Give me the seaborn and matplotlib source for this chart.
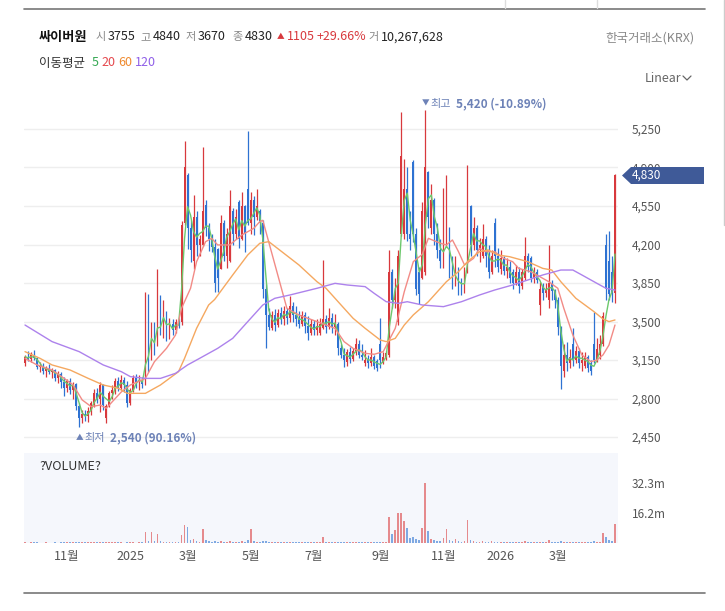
import numpy as np
import pandas as pd
import matplotlib.pyplot as plt
import seaborn as sns
from matplotlib.patches import Polygon
from matplotlib.lines import Line2D

# ─── SETTINGS ───────────────────────────────────────────
sns.set_theme(style="white")
plt.rcParams['font.family'] = ['Noto Sans CJK KR', 'DejaVu Sans']

W, H = 725, 611
UP, DOWN = '#d8393d', '#2e72d2'

# ─── DATA (2 trading days per candle) ───────────────────
opens = [
    3120, 3180, 3160, 3200, 3170, 3090, 3100, 3050, 3070, 3040,
    3060, 2990, 3020, 2950, 2900, 2960, 2880, 2930, 2730, 2620,
    2660, 2640, 2690, 2760, 2850, 2800, 2920, 2620, 2730, 2850,
    2880, 2960, 2900, 2970, 2920, 2760, 2880, 2990, 2950, 2970,
    2930, 3420, 3200, 3420, 3300, 3600, 3450, 3560, 3400, 3480,
    3420, 3500, 3500, 4400, 4830, 4350, 4050, 4450, 4200, 4200,
    4560, 4350, 4250, 4180, 4160, 3980, 4400, 4100, 4050, 4500,
    4300, 4590, 4250, 4550, 4700, 4400, 4600, 4450, 4500, 4400,
    3800, 3560, 3440, 3560, 3470, 3580, 3520, 3600, 3530, 3640,
    3560, 3520, 3480, 3560, 3460, 3400, 3480, 3420, 3400, 3440,
    3520, 3450, 3530, 3450, 3480, 3260, 3200, 3130, 3220, 3160,
    3230, 3300, 3200, 3120, 3150, 3120, 3180, 3140, 3300, 3120,
    3180, 3200, 3950, 3700, 3500, 4300, 4300, 4700, 4300, 4950,
    4300, 3950, 3900, 3950, 4860, 4350, 4600, 4300, 4150, 4000,
    4200, 4350, 4000, 3850, 3950, 3850, 3780, 3950, 4550, 4200,
    4350, 4150, 4100, 4250, 4100, 3950, 4400, 4100, 3980, 4080,
    3960, 4000, 3950, 3850, 3950, 3820, 3900, 4100, 4080, 3900,
    3950, 3650, 3820, 3760, 3700, 3850, 3780, 3700, 3450, 3050,
    3200, 3120, 3300, 3150, 3230, 3120, 3100, 3180, 3120, 3300,
    3150, 3200, 3300, 4200, 4050, 3950, 3755,
]
highs = [
    3200, 3230, 3220, 3240, 3180, 3130, 3120, 3100, 3110, 3080,
    3070, 3050, 3040, 3000, 2980, 2990, 2950, 2940, 2760, 2700,
    2700, 2720, 2780, 2890, 2900, 2950, 2930, 2750, 2870, 2920,
    2990, 3000, 3010, 3000, 2960, 2900, 3010, 3020, 3010, 3000,
    3770, 3750, 3500, 3500, 3980, 3740, 3700, 3600, 3530, 3520,
    3520, 3530, 4410, 5140, 4850, 4420, 4650, 4500, 4290, 5090,
    4600, 4400, 4300, 4250, 4170, 4470, 4420, 4350, 4695, 4530,
    4520, 4600, 4680, 4560, 5230, 4680, 4640, 4700, 4520, 4420,
    3840, 3620, 3600, 3610, 3610, 3630, 3640, 3620, 3730, 3680,
    3640, 3600, 3600, 3590, 3550, 3520, 3510, 3520, 3530, 4060,
    3560, 3620, 3580, 3570, 3500, 3300, 3260, 3250, 3270, 3260,
    3350, 3330, 3300, 3240, 3200, 3260, 3200, 3160, 3530, 3220,
    3230, 4150, 3980, 3900, 4150, 5400, 4980, 4900, 4500, 4970,
    4350, 4000, 4590, 5420, 4870, 4750, 4620, 4400, 4250, 4710,
    4830, 4360, 4100, 4100, 4000, 3900, 4000, 4920, 4560, 4450,
    4380, 4260, 4390, 4280, 4200, 4150, 4440, 4170, 4150, 4100,
    4080, 4050, 3980, 4010, 4000, 3980, 4270, 4120, 4100, 4000,
    3980, 3860, 3850, 3850, 4200, 3880, 3800, 3720, 3460, 3300,
    3310, 3250, 3440, 3280, 3260, 3220, 3220, 3200, 3150, 3590,
    3350, 3380, 3590, 4300, 4320, 4100, 4840,
]
lows = [
    3100, 3140, 3130, 3150, 3070, 3040, 3020, 3000, 3020, 2990,
    2960, 2940, 2900, 2820, 2860, 2840, 2800, 2700, 2540, 2580,
    2600, 2590, 2650, 2720, 2760, 2680, 2700, 2575, 2720, 2800,
    2840, 2870, 2880, 2860, 2726, 2740, 2860, 2900, 2880, 2900,
    2920, 3040, 3150, 3200, 3280, 3380, 3350, 3320, 3340, 3380,
    3400, 3440, 3470, 4380, 4160, 4040, 3980, 4100, 4100, 4190,
    4280, 4140, 4130, 3770, 3770, 3980, 4050, 3990, 4040, 4200,
    4250, 4170, 4240, 4135, 4380, 4300, 4290, 4420, 4300, 3710,
    3260, 3420, 3420, 3410, 3450, 3480, 3470, 3480, 3500, 3500,
    3460, 3440, 3460, 3400, 3330, 3380, 3380, 3380, 3380, 3430,
    3400, 3430, 3400, 3380, 3200, 3170, 3090, 3100, 3120, 3140,
    3200, 3170, 3150, 3100, 3080, 3100, 3070, 3050, 3080, 3110,
    3150, 3180, 3620, 3620, 3470, 4280, 4250, 4230, 4150, 4220,
    3740, 3660, 3890, 3920, 4350, 4300, 4200, 4080, 3990, 3990,
    4180, 3900, 3800, 3820, 3740, 3740, 3760, 3940, 4100, 4150,
    4100, 4040, 4080, 4000, 3900, 3930, 4000, 3950, 3930, 3920,
    3900, 3850, 3800, 3830, 3760, 3800, 3880, 3950, 3860, 3850,
    3850, 3560, 3700, 3720, 3620, 3700, 3620, 3380, 2890, 3000,
    3050, 3080, 3100, 3120, 3080, 3050, 3080, 3040, 3010, 3120,
    3130, 3160, 3280, 3700, 3700, 3680, 3670,
]
closes = [
    3180, 3160, 3200, 3170, 3090, 3100, 3050, 3070, 3040, 3060,
    2990, 3020, 2950, 2900, 2960, 2880, 2930, 2730, 2620, 2660,
    2640, 2690, 2760, 2850, 2800, 2920, 2740, 2730, 2850, 2880,
    2960, 2900, 2970, 2920, 2760, 2880, 2990, 2950, 2970, 2930,
    3420, 3200, 3420, 3300, 3600, 3450, 3560, 3400, 3480, 3420,
    3500, 3480, 4380, 4900, 4350, 4150, 4450, 4200, 4250, 4500,
    4350, 4250, 4180, 3850, 3900, 4400, 4100, 4300, 4550, 4300,
    4450, 4250, 4550, 4300, 4400, 4600, 4450, 4550, 4400, 3800,
    3560, 3450, 3560, 3470, 3580, 3520, 3600, 3530, 3640, 3560,
    3520, 3480, 3560, 3460, 3400, 3480, 3420, 3460, 3480, 3520,
    3450, 3530, 3450, 3480, 3260, 3200, 3150, 3220, 3160, 3230,
    3300, 3200, 3180, 3150, 3120, 3180, 3100, 3080, 3150, 3180,
    3210, 3950, 3700, 3750, 4100, 5000, 4700, 4300, 4250, 4300,
    3800, 3750, 4500, 4900, 4450, 4600, 4300, 4150, 4050, 4200,
    4300, 3950, 3850, 3950, 3800, 3780, 3950, 4350, 4200, 4350,
    4150, 4200, 4250, 4100, 3950, 4100, 4100, 4000, 4080, 3960,
    4000, 3900, 3850, 3950, 3820, 3950, 4100, 4000, 3900, 3950,
    3880, 3800, 3760, 3800, 3850, 3780, 3700, 3450, 3100, 3200,
    3120, 3180, 3150, 3230, 3120, 3150, 3180, 3080, 3050, 3150,
    3250, 3300, 3550, 3800, 3750, 3760, 4830,
]
volumes_m = [
    0.3, 0.2, 0.3, 0.4, 0.3, 0.2, 0.2, 0.3, 0.2, 0.2,
    0.3, 0.2, 0.3, 0.4, 0.3, 0.3, 0.3, 0.5, 0.6, 0.4,
    0.3, 0.3, 0.3, 0.4, 0.3, 0.5, 0.4, 0.5, 0.4, 0.3,
    0.3, 0.3, 0.3, 0.2, 0.4, 0.3, 0.3, 0.2, 0.3, 0.3,
    5.9, 1.2, 5.9, 1.0, 4.7, 1.1, 0.8, 0.7, 0.6, 0.5,
    0.5, 0.6, 4.1, 9.5, 8.4, 1.5, 2.0, 1.0, 0.8, 7.5,
    1.4, 0.9, 0.8, 1.0, 0.8, 1.2, 0.7, 0.6, 1.1, 0.7,
    0.6, 0.8, 1.0, 0.7, 1.6, 7.5, 0.9, 0.8, 0.7, 1.2,
    1.3, 0.6, 0.5, 0.4, 0.5, 0.4, 0.4, 0.3, 0.7, 0.4,
    0.4, 0.3, 0.3, 0.3, 0.4, 0.3, 0.3, 0.3, 0.4, 3.4,
    0.8, 0.5, 0.4, 0.3, 0.5, 0.4, 0.3, 0.3, 0.3, 0.3,
    0.4, 0.3, 0.3, 0.3, 0.3, 0.3, 0.3, 0.4, 0.8, 0.5,
    0.6, 14.0, 4.8, 6.8, 16.1, 16.1, 11.6, 7.9, 2.5, 3.0,
    2.2, 1.8, 7.9, 32.1, 6.6, 2.0, 1.4, 1.0, 0.9, 2.5,
    7.3, 1.5, 1.2, 2.3, 0.9, 0.8, 1.0, 12.2, 1.6, 1.0,
    0.8, 0.7, 0.9, 0.7, 0.6, 1.3, 0.8, 0.6, 0.5, 0.5,
    0.5, 0.4, 0.5, 0.4, 0.4, 0.5, 1.0, 0.5, 0.4, 0.4,
    0.4, 0.6, 0.4, 0.4, 1.6, 0.5, 0.4, 0.8, 1.2, 0.6,
    0.5, 0.4, 0.6, 0.4, 0.3, 0.4, 0.3, 0.3, 0.4, 0.9,
    0.6, 0.7, 5.5, 3.4, 1.5, 1.2, 10.27,
]

# moving averages (candle index, price)
ma20_idx = [0, 4, 9, 13, 16, 19, 22, 25, 27, 29, 32, 35, 40, 43, 47, 50, 52, 55, 57, 60,
            62, 64, 68, 72, 76, 78, 79, 87, 91, 97, 100, 103, 106, 109, 113, 116, 119, 123,
            126, 129, 132, 134, 138, 140, 142, 144, 146, 149, 151, 153, 156, 159, 162, 164,
            168, 171, 174, 177, 179, 182, 185, 188, 190, 192, 194, 196]
ma20_val = [3165, 3105, 3059, 2983, 2923, 2787, 2726, 2741, 2711, 2771, 2860, 2923, 2983, 3135,
            3256, 3377, 3620, 3802, 4044, 4226, 4256, 4196, 4196, 4286, 4347, 4408, 4420, 3620,
            3559, 3499, 3468, 3438, 3317, 3256, 3211, 3202, 3226, 3438, 3771, 4044, 4111, 4256,
            4211, 4196, 4241, 4135, 4014, 4074, 4165, 4135, 4135, 4074, 4044, 3983, 3953, 3908,
            3862, 3802, 3620, 3377, 3196, 3135, 3150, 3196, 3286, 3468]
ma60_idx = [0, 5, 9, 15, 21, 26, 31, 34, 40, 45, 51, 53, 57, 61, 63, 69, 74, 78, 81, 86,
            91, 97, 100, 105, 109, 113, 118, 120, 123, 126, 129, 134, 140, 144, 147, 151,
            154, 157, 161, 167, 172, 175, 178, 183, 189, 192, 194, 196]
ma60_val = [3226, 3165, 3105, 3059, 2983, 2923, 2893, 2847, 2847, 2923, 3044, 3165, 3438, 3650,
            3700, 3923, 4105, 4211, 4226, 4120, 4014, 3862, 3802, 3650, 3529, 3438, 3332, 3317,
            3347, 3468, 3560, 3680, 3862, 3953, 4044, 4135, 4150, 4105, 4089, 4044, 3983, 3968,
            3862, 3711, 3590, 3523, 3499, 3514]
ma120_idx = [0, 9, 18, 26, 32, 35, 40, 45, 50, 54, 58, 64, 69, 74, 79, 83, 88, 97, 103, 107,
             113, 116, 120, 124, 127, 132, 139, 145, 151, 156, 162, 167, 172, 178, 182, 185,
             190, 193, 196]
ma120_val = [3468, 3317, 3226, 3105, 3044, 2999, 2983, 2983, 3029, 3105, 3165, 3256, 3347, 3499,
             3650, 3711, 3741, 3802, 3847, 3832, 3817, 3756, 3680, 3665, 3680, 3650, 3635, 3680,
             3741, 3786, 3832, 3877, 3923, 3968, 3968, 3923, 3847, 3802, 3786]

month_idx = [14, 35, 54, 75, 96, 118, 139, 158, 177]
month_labels = ['11월', '2025', '3월', '5월', '7월', '9월', '11월', '2026', '3월']
price_ticks = [2450, 2800, 3150, 3500, 3850, 4200, 4550, 4900, 5250]
vol_ticks = [16.2, 32.3]
vol_tick_labels = ['16.2m', '32.3m']

df = pd.DataFrame({'open': opens, 'high': highs, 'low': lows,
                   'close': closes, 'vol': volumes_m})
df['i'] = np.arange(len(df))
df['up'] = df['close'] >= df['open']
df['ma5'] = df['close'].rolling(3, min_periods=1).mean()


def rect(l, t, r, b):
    return [l / W, 1 - b / H, (r - l) / W, (b - t) / H]


def fx(x):
    return x / W


def fy(y):
    return 1 - y / H


fig = plt.figure(figsize=(W / 100, H / 100), dpi=100)

# ─── PRICE PANE ─────────────────────────────────────────
ax = fig.add_axes(rect(23.5, 95, 618, 450))
ax.set_xlim(-0.5, 197)
ax.set_ylim(2332, 5559)
for s in ax.spines.values():
    s.set_visible(False)
ax.set_xticks([])
ax.set_yticks(price_ticks)
ax.set_yticklabels([f'{v:,}' for v in price_ticks])
ax.yaxis.tick_right()
ax.tick_params(axis='y', length=0, pad=10, labelsize=8.5, labelcolor='#555555')
ax.grid(axis='y', color='#eeeeee', lw=1)
ax.set_axisbelow(True)

cols = np.where(df['up'], UP, DOWN)
ax.vlines(df['i'], df['low'], df['high'], colors=cols, lw=0.9, zorder=2)
body_low = np.minimum(df['open'], df['close'])
body_h = np.maximum((df['close'] - df['open']).abs(), 10)
ax.bar(df['i'], body_h, bottom=body_low, width=0.6, color=cols, lw=0, zorder=2)

sns.lineplot(x=df['i'], y=df['ma5'], ax=ax, color='#6cc86c', lw=1, zorder=3,
             estimator=None, sort=False)
sns.lineplot(x=ma20_idx, y=ma20_val, ax=ax, color='#f28b86', lw=1, zorder=3,
             estimator=None, sort=False)
sns.lineplot(x=ma60_idx, y=ma60_val, ax=ax, color='#f5a860', lw=1, zorder=3,
             estimator=None, sort=False)
sns.lineplot(x=ma120_idx, y=ma120_val, ax=ax, color='#ad82ec', lw=1, zorder=3,
             estimator=None, sort=False)
ax.set_xlabel('')
ax.set_ylabel('')

# ─── VOLUME PANE ────────────────────────────────────────
vax = fig.add_axes(rect(23.5, 453, 618, 543))
vax.set_facecolor('#f5f7fc')
vax.set_xlim(-0.5, 197)
vax.set_ylim(0, 48.4)
for s in vax.spines.values():
    s.set_visible(False)
vcols = np.where(df['up'], '#e58a8d', '#7fa9e2')
vax.bar(df['i'], df['vol'], width=0.6, color=vcols, lw=0)
vax.set_xticks(month_idx)
vax.set_xticklabels(month_labels)
vax.tick_params(axis='x', length=0, pad=5, labelsize=9, labelcolor='#555555')
vax.set_yticks(vol_ticks)
vax.set_yticklabels(vol_tick_labels)
vax.yaxis.tick_right()
vax.tick_params(axis='y', length=0, pad=10, labelsize=8.5, labelcolor='#555555')
vax.text(0.027, 0.85, '?VOLUME?', transform=vax.transAxes, fontsize=9,
         color='#333333', va='center')

# ─── HEADER ─────────────────────────────────────────────
fig.text(fx(39), fy(37), '싸이버원', fontsize=9.5, fontweight='bold', color='#111111', va='center')
header = [('시', 95, '#888888', 8), ('3755', 108, '#222222', 9),
          ('고', 140, '#888888', 8), ('4840', 153, '#222222', 9),
          ('저', 185, '#888888', 8), ('3670', 198, '#222222', 9),
          ('종', 232, '#888888', 8), ('4830', 245, '#222222', 9),
          ('1105', 287, UP, 9), ('+29.66%', 317, UP, 9),
          ('거', 368, '#888888', 8), ('10,267,628', 381, '#222222', 9)]
for txt, x, c, fs in header:
    fig.text(fx(x), fy(37), txt, fontsize=fs, color=c, va='center')
fig.text(fx(277), fy(37), '▲', fontsize=5.5, color=UP, va='center')
fig.text(fx(695), fy(38), '한국거래소(KRX)', fontsize=9, color='#888888', va='center', ha='right')

fig.text(fx(39), fy(63), '이동평균', fontsize=9, color='#333333', va='center')
legend_items = [('5', 92, '#35a853'), ('20', 101, '#e5484d'),
                ('60', 118, '#ef8a2e'), ('120', 135, '#8f5fe8')]
for txt, x, c in legend_items:
    fig.text(fx(x), fy(63), txt, fontsize=9, color=c, va='center')

fig.text(fx(645), fy(78), 'Linear', fontsize=9, color='#666666', va='center')
fig.add_artist(Line2D([fx(683), fx(687), fx(691)], [fy(76), fy(80), fy(76)],
                      color='#666666', lw=0.9))

# ─── HIGH / LOW MARKERS ─────────────────────────────────
mark_c = '#6d82b7'
fig.text(fx(422), fy(104), '▼', fontsize=5.5, color=mark_c, va='center')
fig.text(fx(430), fy(104), '최고', fontsize=8, color=mark_c, va='center')
fig.text(fx(456), fy(104), '5,420 (-10.89%)', fontsize=8.5, color=mark_c,
         fontweight='bold', va='center')
fig.text(fx(76), fy(438), '▲', fontsize=5.5, color=mark_c, va='center')
fig.text(fx(84), fy(438), '최저', fontsize=8, color=mark_c, va='center')
fig.text(fx(110), fy(438), '2,540 (90.16%)', fontsize=8.5, color=mark_c,
         fontweight='bold', va='center')

# ─── LAST PRICE TAG ─────────────────────────────────────
tag = Polygon([(fx(622), fy(175.5)), (fx(631), fy(167)), (fx(704), fy(167)),
               (fx(704), fy(184)), (fx(631), fy(184))], closed=True,
              facecolor='#3f5a98', edgecolor='none', transform=fig.transFigure, zorder=5)
fig.add_artist(tag)
fig.text(fx(632), fy(175.5), '4,830', fontsize=8.5, color='white', va='center', zorder=6)

# ─── FRAME LINES ────────────────────────────────────────
fig.add_artist(Line2D([fx(24), fx(705)], [fy(9), fy(9)], color='#777777', lw=1.2))
fig.add_artist(Line2D([fx(24), fx(705)], [fy(593), fy(593)], color='#777777', lw=1.2))
for x in (505, 597):
    fig.add_artist(Line2D([fx(x), fx(x)], [fy(0), fy(8)], color='#dddddd', lw=1))
fig.add_artist(Line2D([fx(724), fx(724)], [fy(0), fy(225)], color='#cccccc', lw=1))

plt.savefig('out.png', dpi=100)
